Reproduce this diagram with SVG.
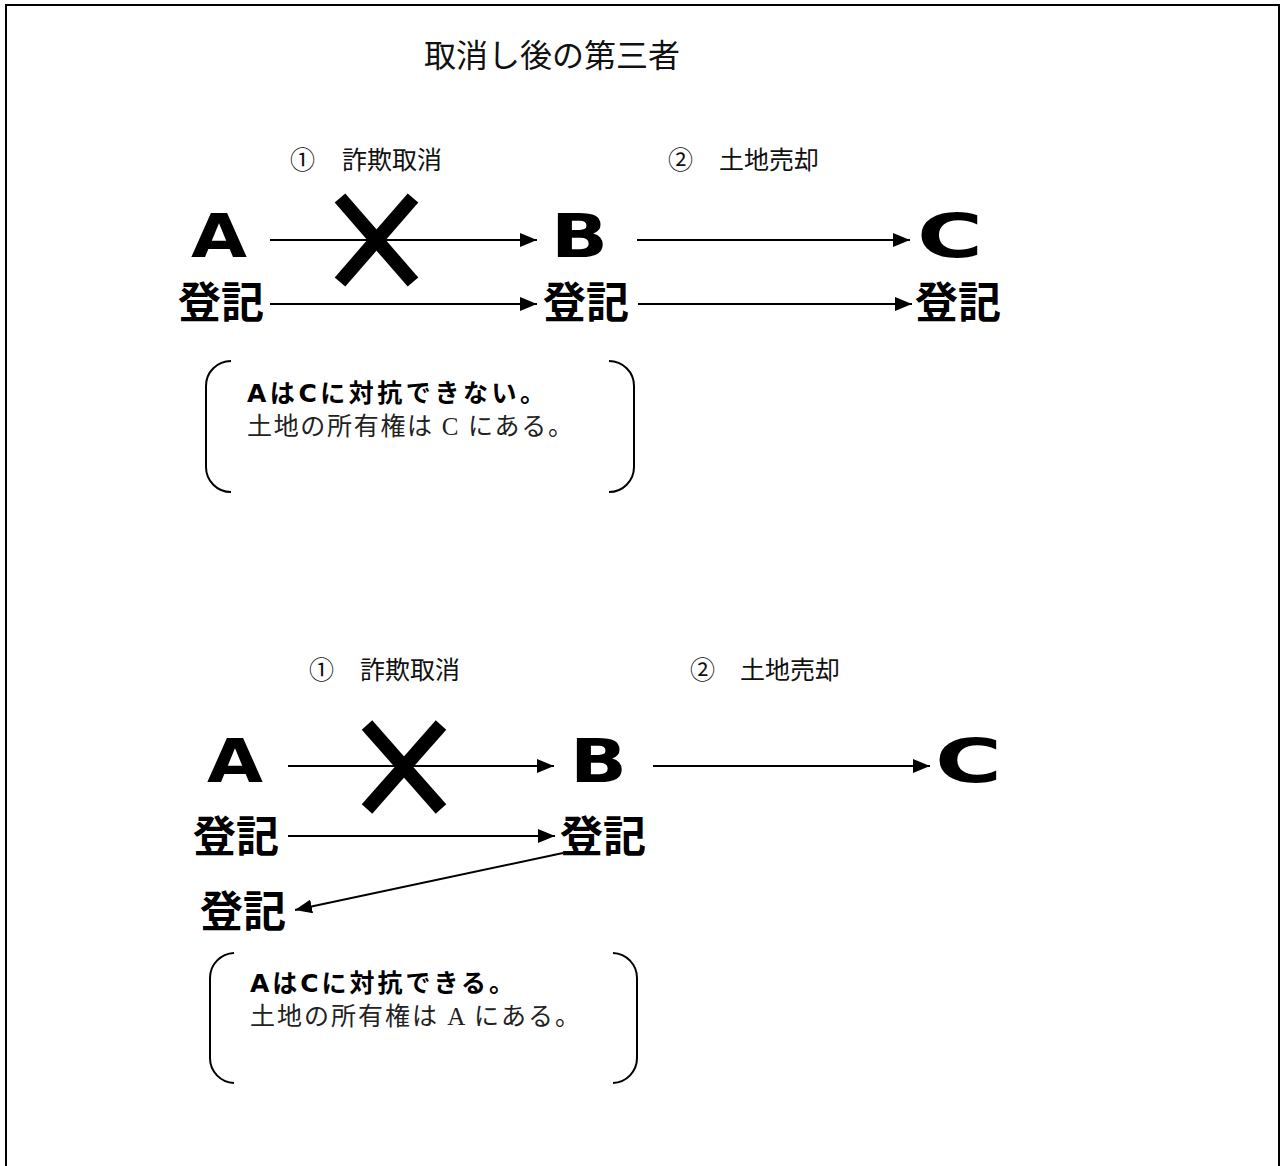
<svg xmlns="http://www.w3.org/2000/svg" width="1281" height="1166" viewBox="0 0 1281 1166">
<style>
.title{font-family:"Liberation Serif","Noto Sans CJK JP",serif;font-size:32px;fill:#111}
.lbl{font-family:"Liberation Serif","Noto Sans CJK JP",serif;font-size:25px;fill:#111}
.big{font-family:"DejaVu Sans",sans-serif;font-weight:bold;font-size:60px;fill:#000}
.reg{font-family:"Noto Sans CJK JP",sans-serif;font-weight:bold;font-size:43px;fill:#000}
.bold{font-family:"DejaVu Sans","Noto Sans CJK JP",sans-serif;font-weight:bold;font-size:25px;fill:#000}
.mincho{font-family:"Liberation Serif","Noto Sans CJK JP",serif;font-size:25px;fill:#222}
.ln{stroke:#000;stroke-width:2;fill:none}
.x{stroke:#000;stroke-width:14;stroke-linecap:butt}
.br{stroke:#000;stroke-width:2;fill:none}
</style>
<defs>
<marker id="ah" markerUnits="userSpaceOnUse" markerWidth="18" markerHeight="14" refX="17" refY="7" orient="auto">
<path d="M0,0 L17,7 L0,14 z" fill="#000"/>
</marker>
</defs>
<rect x="6" y="5" width="1273" height="1220" fill="#fff" stroke="#000" stroke-width="2"/>
<text class="title" x="424" y="67">取消し後の第三者</text>

<g id="section1">
<g id="s1-labels">
<text class="lbl" x="290" y="169">①</text>
<text class="lbl" x="342" y="169">詐欺取消</text>
<text class="lbl" x="668" y="169">②</text>
<text class="lbl" x="719" y="169">土地売却</text>
</g>
<g id="s1-A"><text class="big" x="191" y="257" textLength="56" lengthAdjust="spacingAndGlyphs">A</text></g>
<g id="s1-B"><text class="big" x="551" y="257" textLength="57" lengthAdjust="spacingAndGlyphs">B</text></g>
<g id="s1-C"><text class="big" x="917" y="257" textLength="66" lengthAdjust="spacingAndGlyphs">C</text></g>
<g id="s1-regA"><text class="reg" x="178" y="318">登記</text></g>
<g id="s1-regB"><text class="reg" x="543" y="318">登記</text></g>
<g id="s1-regC"><text class="reg" x="915" y="318">登記</text></g>
<g id="s1-note">
<path class="br" d="M231,361 A25,25 0 0 0 206,386 L206,467 A25,25 0 0 0 231,492"/>
<path class="br" d="M609,361 A25,25 0 0 1 634,386 L634,467 A25,25 0 0 1 609,492"/>
<text class="bold" x="247" y="402" textLength="298">AはCに対抗できない。</text>
<text class="mincho" x="247" y="435" textLength="326">土地の所有権は C にある。</text>
</g>
</g>

<g id="section2">
<g id="s2-labels">
<text class="lbl" x="309" y="679">①</text>
<text class="lbl" x="360" y="679">詐欺取消</text>
<text class="lbl" x="690" y="679">②</text>
<text class="lbl" x="740" y="679">土地売却</text>
</g>
<g id="s2-A"><text class="big" x="207" y="782" textLength="56" lengthAdjust="spacingAndGlyphs">A</text></g>
<g id="s2-B"><text class="big" x="570" y="782" textLength="57" lengthAdjust="spacingAndGlyphs">B</text></g>
<g id="s2-C"><text class="big" x="935" y="782" textLength="67" lengthAdjust="spacingAndGlyphs">C</text></g>
<g id="s2-regA"><text class="reg" x="193" y="852">登記</text></g>
<g id="s2-regB"><text class="reg" x="560" y="852">登記</text></g>
<g id="s2-regA2"><text class="reg" x="200" y="927">登記</text></g>
<g id="s2-note">
<path class="br" d="M234,953 A25,25 0 0 0 210,978 L210,1058 A25,25 0 0 0 234,1083"/>
<path class="br" d="M613,953 A25,25 0 0 1 637,978 L637,1058 A25,25 0 0 1 613,1083"/>
<text class="bold" x="250" y="992" textLength="264">AはCに対抗できる。</text>
<text class="mincho" x="250" y="1025" textLength="330">土地の所有権は A にある。</text>
</g>
</g>

<g id="connectors">
<line class="ln" x1="270" y1="240" x2="537" y2="240" marker-end="url(#ah)"/>
<line class="ln" x1="270" y1="304" x2="537" y2="304" marker-end="url(#ah)"/>
<line class="ln" x1="637" y1="240" x2="910" y2="240" marker-end="url(#ah)"/>
<line class="ln" x1="638" y1="304" x2="912" y2="304" marker-end="url(#ah)"/>
<line class="ln" x1="288" y1="766" x2="554" y2="766" marker-end="url(#ah)"/>
<line class="ln" x1="288" y1="836" x2="555" y2="836" marker-end="url(#ah)"/>
<line class="ln" x1="653" y1="766" x2="930" y2="766" marker-end="url(#ah)"/>
<line class="ln" x1="563" y1="853" x2="295" y2="910" marker-end="url(#ah)"/>
<g id="cross1">
<line class="x" x1="340" y1="198" x2="413" y2="282"/>
<line class="x" x1="340" y1="282" x2="413" y2="198"/>
</g>
<g id="cross2">
<line class="x" x1="367" y1="725" x2="441" y2="809"/>
<line class="x" x1="367" y1="809" x2="441" y2="725"/>
</g>
</g>
</svg>
